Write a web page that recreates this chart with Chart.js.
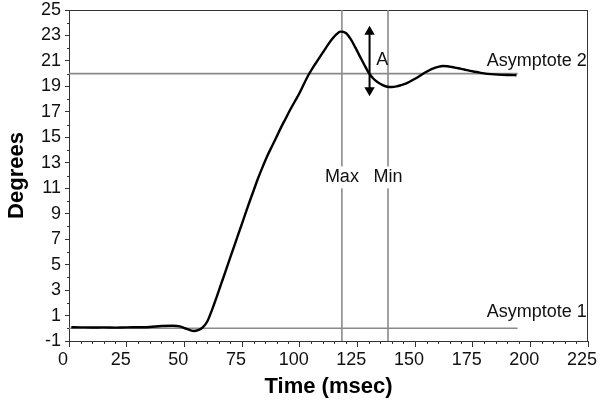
<!DOCTYPE html>
<html>
<head>
<meta charset="utf-8">
<script src="https://cdn.jsdelivr.net/npm/chart.js@4"></script>
<style>
  html, body { margin: 0; padding: 0; background: #fff; }
  #wrap { width: 602px; height: 404px; }
</style>
</head>
<body>
<div id="wrap"><canvas id="chart"></canvas></div>
<script>
// 반응 곡선 (시간 ms, 각도)
const timeMs = [1, 5, 10, 15, 20, 25, 30, 35, 40, 45, 48, 51, 54, 56, 58, 60, 62, 64, 66, 68, 70, 72, 74, 76, 78, 80, 82, 84, 86, 88, 90, 92, 94, 96, 98, 100, 102, 104, 106, 108, 110, 112, 114, 116, 117.6, 120, 122, 124, 126, 128, 130, 132, 134, 136, 138, 140, 142, 144, 146, 148, 150, 152, 154, 156, 158, 160, 162, 164, 166, 168, 170, 172, 174, 176, 178, 180, 183, 186, 190, 194];
const degrees = [0.08, 0.07, 0.06, 0.07, 0.05, 0.07, 0.08, 0.1, 0.18, 0.2, 0.15, -0.05, -0.22, -0.15, 0.07, 0.55, 1.45, 2.45, 3.5, 4.55, 5.6, 6.65, 7.7, 8.75, 9.8, 10.8, 11.8, 12.7, 13.55, 14.3, 15.05, 15.8, 16.5, 17.2, 17.85, 18.5, 19.25, 19.95, 20.55, 21.1, 21.65, 22.2, 22.7, 23.1, 23.3, 23.2, 22.75, 22.1, 21.4, 20.7, 20.05, 19.6, 19.3, 19.1, 18.97, 18.95, 19.0, 19.1, 19.22, 19.4, 19.6, 19.82, 20.05, 20.25, 20.42, 20.53, 20.6, 20.58, 20.52, 20.45, 20.38, 20.3, 20.22, 20.15, 20.08, 20.02, 19.96, 19.92, 19.89, 19.88];

// 기준선
const asymptote1 = 0;
const asymptote2 = 20;
const asymptoteEnd = 194.5;
const maxTime = 118.3;
const minTime = 138.3;
const ampTime = 130.3;
const ampRange = [23.3, 18.7];

// 축
const xTicks = [0, 25, 50, 75, 100, 125, 150, 175, 200, 225];
const yTicks = [-1, 1, 3, 5, 7, 9, 11, 13, 15, 17, 19, 21, 23, 25];

// 주석 텍스트 [텍스트, x, y, 정렬]
const notes = [
    ['Asymptote 2', 224.5, 21.0, 'right'],
    ['Asymptote 1', 224.5, 1.3, 'right'],
    ['A', 133.2, 21.1, 'left'],
    ['Max', maxTime, 11.85, 'center'],
    ['Min', minTime, 11.85, 'center']
];

const FONT = '"Liberation Sans", Arial, sans-serif';
const GRAY = '#8a8a8a';

const curve = timeMs.map((t, i) => ({ x: t, y: degrees[i] }));

// 보조 눈금 + 테두리 + 주석
const extras = {
    id: 'extras',
    beforeDatasetsDraw(chart) {
        const { ctx, chartArea: a, scales: { x, y } } = chart;
        ctx.save();
        ctx.strokeStyle = '#333';
        ctx.lineWidth = 1;
        ctx.strokeRect(a.left + 0.5, a.top + 0.5, a.right - a.left - 1, a.bottom - a.top);
        ctx.beginPath();
        for (let v = 0; v <= 225; v += 5) {
            if (v % 25 === 0) continue;
            const px = Math.round(x.getPixelForValue(v)) + 0.5;
            ctx.moveTo(px, a.bottom);
            ctx.lineTo(px, a.bottom + 3);
        }
        for (let v = 0; v <= 24; v += 2) {
            const py = Math.round(y.getPixelForValue(v)) + 0.5;
            ctx.moveTo(a.left, py);
            ctx.lineTo(a.left - 2, py);
        }
        ctx.stroke();
        ctx.restore();
    },
    afterDatasetsDraw(chart) {
        const { ctx, scales: { x, y } } = chart;
        ctx.save();
        ctx.font = '18px ' + FONT;
        ctx.textBaseline = 'middle';
        notes.forEach(([text, tx, ty, align]) => {
            const px = x.getPixelForValue(tx);
            const py = y.getPixelForValue(ty);
            if (text === 'Max' || text === 'Min') {
                const w = ctx.measureText(text).width;
                ctx.fillStyle = '#fff';
                ctx.fillRect(px - w / 2 - 2, py - 11, w + 4, 22);
            }
            ctx.fillStyle = '#111';
            ctx.textAlign = align;
            ctx.fillText(text, px, py);
        });
        ctx.restore();
    }
};

new Chart(document.getElementById('chart'), {
    type: 'scatter',
    data: {
        datasets: [
            {
                data: curve, showLine: true, borderColor: '#000', borderWidth: 2.4,
                pointRadius: 0, cubicInterpolationMode: 'monotone'
            },
            {
                data: [{ x: ampTime, y: ampRange[0] }, { x: ampTime, y: ampRange[1] }],
                showLine: true, borderColor: '#000', borderWidth: 2,
                pointStyle: 'triangle', rotation: [0, 180], pointRadius: 4,
                backgroundColor: '#000', pointBorderColor: '#000'
            },
            {
                data: [{ x: 0, y: asymptote2 }, { x: asymptoteEnd, y: asymptote2 }],
                showLine: true, borderColor: GRAY, borderWidth: 1.6, pointRadius: 0
            },
            {
                data: [{ x: 0, y: asymptote1 }, { x: asymptoteEnd, y: asymptote1 }],
                showLine: true, borderColor: GRAY, borderWidth: 1.6, pointRadius: 0
            },
            {
                data: [{ x: maxTime, y: -1 }, { x: maxTime, y: 25 }],
                showLine: true, borderColor: GRAY, borderWidth: 1.6, pointRadius: 0
            },
            {
                data: [{ x: minTime, y: -1 }, { x: minTime, y: 25 }],
                showLine: true, borderColor: GRAY, borderWidth: 1.6, pointRadius: 0
            }
        ]
    },
    options: {
        responsive: true,
        maintainAspectRatio: false,
        animation: false,
        layout: { padding: { top: 10, right: 14, left: 0, bottom: 0 } },
        plugins: { legend: { display: false }, tooltip: { enabled: false } },
        scales: {
            x: {
                type: 'linear', min: 0, max: 225,
                afterBuildTicks: s => { s.ticks = xTicks.map(v => ({ value: v })); },
                afterFit: s => { s.height = 63; s.paddingLeft = 0; s.paddingRight = 0; },
                grid: { drawOnChartArea: false, tickLength: 6, color: '#333' },
                border: { color: '#333' },
                ticks: { color: '#111', font: { size: 18, family: FONT }, padding: 2, labelOffset: -6, maxRotation: 0 },
                title: { display: true, text: 'Time (msec)', color: '#000', font: { size: 22, weight: 'bold', family: FONT }, padding: { top: 0 } }
            },
            y: {
                type: 'linear', min: -1, max: 25,
                afterBuildTicks: s => { s.ticks = yTicks.map(v => ({ value: v })); },
                afterFit: s => { s.width = 69; s.paddingTop = 0; s.paddingBottom = 0; },
                grid: { drawOnChartArea: false, tickLength: 4, color: '#333' },
                border: { color: '#333' },
                ticks: { color: '#111', font: { size: 18, family: FONT }, padding: 4 },
                title: { display: true, text: 'Degrees', color: '#000', font: { size: 22, weight: 'bold', family: FONT }, padding: { bottom: 0 } }
            }
        }
    },
    plugins: [extras]
});
</script>
</body>
</html>
